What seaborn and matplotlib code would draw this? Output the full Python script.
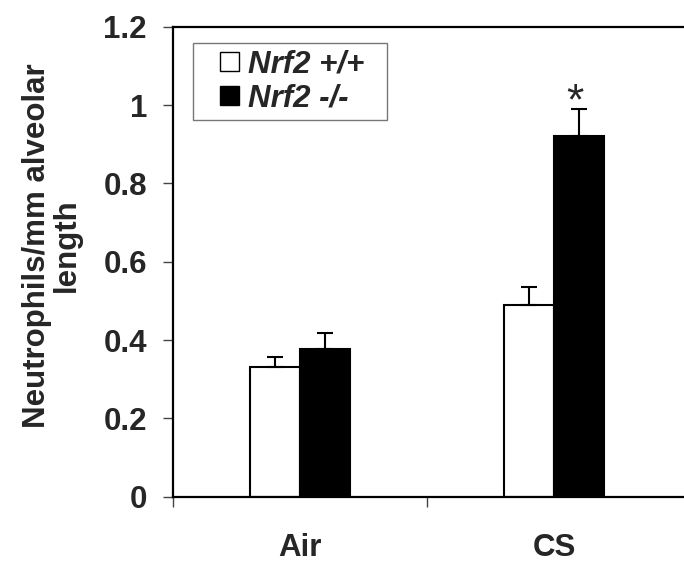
import matplotlib
matplotlib.use("Agg")
import matplotlib.pyplot as plt
import seaborn as sns
import pandas as pd
import numpy as np
from matplotlib.legend_handler import HandlerPatch
from matplotlib.patches import Rectangle

# ---- data ----
categories = ["Air", "CS"]
genotypes = ["Nrf2 +/+", "Nrf2 -/-"]
wt_values = [0.332, 0.490]
ko_values = [0.378, 0.920]
wt_errors = [0.025, 0.046]
ko_errors = [0.041, 0.071]
y_ticks = [0, 0.2, 0.4, 0.6, 0.8, 1.0, 1.2]
y_tick_labels = ["0", "0.2", "0.4", "0.6", "0.8", "1", "1.2"]
significant = [[False, False], [False, True]]  # [genotype][category]

sns.set_style("white")
plt.rcParams["font.family"] = ["Liberation Sans", "DejaVu Sans"]

FS = 22.5

df = pd.DataFrame({
    "condition": categories * 2,
    "genotype": [genotypes[0]] * 2 + [genotypes[1]] * 2,
    "value": wt_values + ko_values,
})
errs = [wt_errors, ko_errors]

W, H = 684, 565
fig = plt.figure(figsize=(W / 100, H / 100), dpi=100)
ax_left, ax_right, ax_top, ax_bottom = 173.3, 700.0, 26.7, 496.7
ax = fig.add_axes([ax_left / W, (H - ax_bottom) / H,
                   (ax_right - ax_left) / W, (ax_bottom - ax_top) / H])

sns.barplot(data=df, x="condition", y="value", hue="genotype",
            hue_order=genotypes, order=categories,
            palette=["white", "black"], edgecolor="black", linewidth=1.5,
            width=0.395, errorbar=None, ax=ax, legend=False)

bar_containers = list(ax.containers)

# error bars (upper only) and significance marks
for gi, cont in enumerate(bar_containers):
    for ci, bar in enumerate(cont.patches):
        xc = bar.get_x() + bar.get_width() / 2
        h = bar.get_height()
        e = errs[gi][ci]
        ax.errorbar(xc, h, yerr=[[0], [e]], fmt="none", ecolor="black",
                    elinewidth=1.5, capsize=5.5, capthick=1.5, zorder=1)
        if significant[gi][ci]:
            ax.annotate("*", xy=(xc, h + e), xytext=(-3, -10.5),
                        textcoords="offset points", ha="center", va="bottom",
                        fontsize=32, fontweight="normal")

x_max = -0.5 + (ax_right - ax_left) / 254.0
ax.set_xlim(-0.5, x_max)
ax.set_ylim(0, 1.2)
ax.set_yticks(y_ticks)
ax.set_yticklabels(y_tick_labels, fontsize=FS, fontweight="bold")
ax.set_xticks([0, 1])
ax.set_xticklabels(categories, fontsize=FS, fontweight="bold")
ax.set_xticks([-0.5, 0.5], minor=True)
ax.tick_params(axis="x", which="major", length=0, pad=26)
ax.tick_params(axis="x", which="minor", length=7, width=1, color="#444444",
               direction="out", bottom=True)
ax.tick_params(axis="y", which="major", length=7, width=1, color="#444444",
               direction="out", pad=12, left=True)
ax.set_xlabel("")
ax.set_ylabel("Neutrophils/mm alveolar\nlength", fontsize=FS,
              fontweight="bold", linespacing=1.0)
ax.yaxis.set_label_coords((82 - ax_left) / (ax_right - ax_left), 0.535)

for side in ["left", "bottom", "top", "right"]:
    ax.spines[side].set_visible(True)
    ax.spines[side].set_color("black")
    ax.spines[side].set_linewidth(1.6)


class SquareHandler(HandlerPatch):
    def create_artists(self, legend, orig_handle, xdescent, ydescent,
                       width, height, fontsize, trans):
        s = 13.7
        p = Rectangle((-xdescent + width - s, -ydescent + (height - s) / 2),
                      s, s, facecolor=orig_handle.get_facecolor(),
                      edgecolor="black", linewidth=1.0, transform=trans)
        return [p]


handles = [bar_containers[0].patches[0], bar_containers[1].patches[0]]
ax_w = ax_right - ax_left
ax_h = ax_bottom - ax_top
lx0 = (192.7 - ax_left) / ax_w
lx1 = (387.0 - ax_left) / ax_w
ly1 = 1 - (43.3 - ax_top) / ax_h
leg = ax.legend(handles, genotypes, loc="upper left", mode="expand",
                bbox_to_anchor=(lx0, ly1 - 0.3, lx1 - lx0, 0.3),
                prop={"size": FS, "weight": "bold", "style": "italic"},
                handlelength=1.28, handleheight=0.7, handletextpad=0.3,
                labelspacing=0.12, borderpad=0.2, fancybox=False,
                frameon=True, borderaxespad=0,
                handler_map={h: SquareHandler() for h in handles})
leg.get_frame().set_edgecolor("#555555")
leg.get_frame().set_linewidth(1.0)

fig.savefig("out.png", dpi=100, facecolor="white")
